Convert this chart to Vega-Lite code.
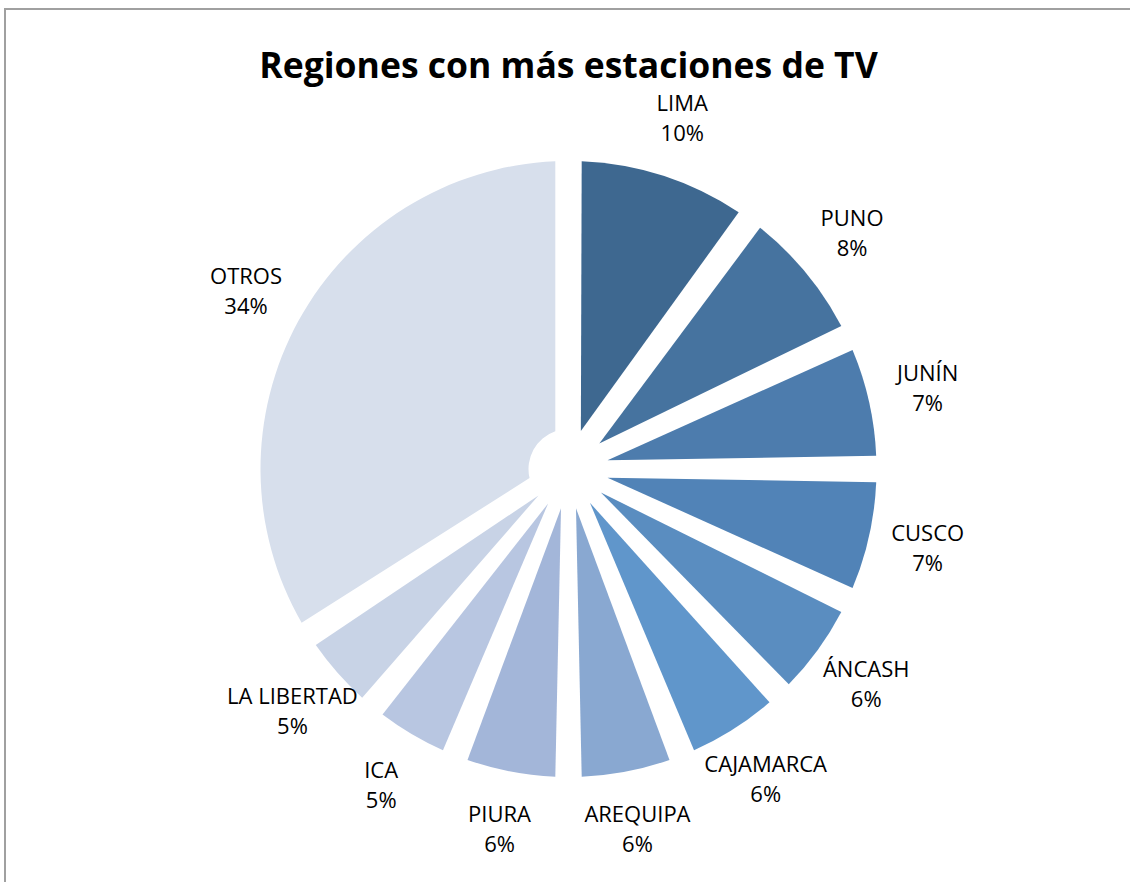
{
  "$schema": "https://vega.github.io/schema/vega-lite/v6.json",
  "width": 1127,
  "height": 920,
  "autosize": {"type": "none"},
  "padding": {"left": 5, "top": 9, "right": -2, "bottom": -47},
  "background": "white",
  "config": {"view": {"stroke": null}},
  "title": {
    "text": "Regiones con más estaciones de TV",
    "font": "Open Sans",
    "fontSize": 35.5,
    "fontWeight": "bold",
    "color": "#000000",
    "anchor": "middle",
    "frame": "group",
    "offset": -77
  },
  "layer": [
    {
      "data": {"values": [{"frame": 1}]},
      "mark": {"type": "rect", "fill": null, "fillOpacity": 0, "stroke": "#A0A0A0", "strokeWidth": 2}
    },
    {
      "data": {
        "values": [
          {"region": "LIMA", "share": 0.10, "ord": 1},
          {"region": "PUNO", "share": 0.08, "ord": 2},
          {"region": "JUNÍN", "share": 0.07, "ord": 3},
          {"region": "CUSCO", "share": 0.07, "ord": 4},
          {"region": "ÁNCASH", "share": 0.06, "ord": 5},
          {"region": "CAJAMARCA", "share": 0.06, "ord": 6},
          {"region": "AREQUIPA", "share": 0.06, "ord": 7},
          {"region": "PIURA", "share": 0.06, "ord": 8},
          {"region": "ICA", "share": 0.05, "ord": 9},
          {"region": "LA LIBERTAD", "share": 0.05, "ord": 10},
          {"region": "OTROS", "share": 0.34, "ord": 11}
        ]
      },
      "encoding": {
        "theta": {"field": "share", "type": "quantitative", "stack": true},
        "order": {"field": "ord", "type": "quantitative"}
      },
      "layer": [
        {
          "mark": {"type": "arc", "outerRadius": 308, "innerRadius": 40, "padAngle": 0.085},
          "encoding": {
            "color": {
              "field": "region",
              "type": "nominal",
              "legend": null,
              "scale": {
                "domain": ["LIMA", "PUNO", "JUNÍN", "CUSCO", "ÁNCASH", "CAJAMARCA", "AREQUIPA", "PIURA", "ICA", "LA LIBERTAD", "OTROS"],
                "range": ["#3E6890", "#46739F", "#4D7CAD", "#5183B7", "#5A8DC0", "#6096CB", "#89A8D1", "#A3B6D9", "#B8C6E1", "#C8D3E6", "#D7DFEC"]
              }
            }
          }
        },
        {
          "mark": {"type": "text", "radius": 368, "dy": -15, "font": "Open Sans", "fontSize": 22, "color": "#000000"},
          "encoding": {"text": {"field": "region", "type": "nominal"}}
        },
        {
          "mark": {"type": "text", "radius": 368, "dy": 15, "font": "Open Sans", "fontSize": 22, "color": "#000000"},
          "encoding": {"text": {"field": "share", "type": "quantitative", "format": ".0%"}}
        }
      ]
    }
  ]
}
